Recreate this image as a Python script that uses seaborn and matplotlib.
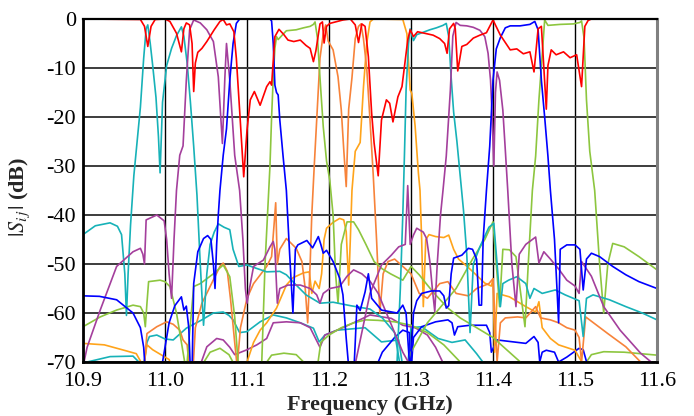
import matplotlib
matplotlib.use("Agg")
import matplotlib.pyplot as plt
import numpy as np
import pandas as pd
import seaborn as sns

# ---- measured |S_ij| traces: (frequency GHz, level dB) ----
s11 = [(10.900, 0.0), (10.970, -0.1), (10.975, -1.5), (10.979, -5.6), (10.983, -1.5), (10.988, -0.1),
       (11.000, 0.0), (11.006, -0.5), (11.014, -2.9), (11.020, -6.7), (11.023, -2.0), (11.026, -0.8),
       (11.030, -1.2), (11.033, -5.0), (11.035, -14.8), (11.037, -9.0), (11.040, -6.8), (11.045, -6.0),
       (11.051, -4.6), (11.060, -2.2), (11.067, -0.5), (11.071, -0.1), (11.075, -1.2), (11.079, -1.0),
       (11.084, -2.6), (11.087, -8.0), (11.091, -18.6), (11.096, -32.2), (11.100, -22.7), (11.104, -16.5),
       (11.109, -14.8), (11.116, -17.6), (11.124, -13.8), (11.128, -12.8), (11.130, -13.5), (11.134, -3.6),
       (11.139, -2.1), (11.145, -3.2), (11.150, -4.3), (11.157, -4.6), (11.165, -4.3), (11.172, -5.4),
       (11.177, -6.0), (11.181, -8.7), (11.184, -6.5), (11.189, -1.0), (11.192, -0.6), (11.194, -4.9),
       (11.197, -1.5), (11.201, -0.9), (11.217, -0.2), (11.226, 0.0), (11.232, -1.2), (11.236, -4.8),
       (11.240, -1.0), (11.244, -1.5), (11.248, -7.7), (11.252, -19.2), (11.255, -25.3), (11.260, -32.0),
       (11.264, -20.6), (11.270, -16.5), (11.274, -17.2), (11.278, -21.0), (11.284, -15.9), (11.289, -13.8),
       (11.293, -8.4), (11.296, -4.3), (11.299, -2.2), (11.303, -3.6), (11.308, -2.6), (11.319, -3.0),
       (11.327, -3.3), (11.335, -4.0), (11.341, -5.0), (11.344, -7.0), (11.347, -2.0), (11.352, -0.9),
       (11.354, -2.0), (11.357, -10.6), (11.362, -5.6), (11.368, -5.2), (11.376, -3.9), (11.384, -3.3),
       (11.392, -2.8), (11.400, -0.2), (11.409, -3.3), (11.421, -6.3), (11.429, -6.1), (11.437, -7.1),
       (11.445, -6.7), (11.450, -10.8), (11.455, -2.0), (11.459, -1.5), (11.465, -18.4), (11.467, -9.5),
       (11.471, -6.3), (11.477, -7.3), (11.486, -6.7), (11.494, -7.9), (11.502, -7.3), (11.508, -13.8),
       (11.512, -1.5), (11.516, -0.3), (11.520, 0.0), (11.600, 0.0)]

cyan_ch1 = [(10.900, -44.0), (10.915, -42.2), (10.933, -41.6), (10.942, -42.3), (10.947, -44.0),
            (10.951, -52.0), (10.953, -60.5), (10.955, -52.0), (10.958, -42.0), (10.962, -32.0),
            (10.966, -25.0), (10.970, -18.0), (10.974, -8.0), (10.977, -2.0), (10.979, -1.2), (10.982, -5.0),
            (10.985, -9.5), (10.989, -16.0), (10.992, -24.0), (10.994, -31.4), (10.997, -17.0), (11.002, -9.5),
            (11.008, -6.0), (11.014, -3.4), (11.020, -1.6), (11.023, -3.5), (11.027, -9.0), (11.031, -17.0),
            (11.035, -26.0), (11.039, -36.0), (11.043, -50.0), (11.047, -62.5), (11.051, -52.0),
            (11.055, -46.0), (11.060, -43.5), (11.065, -41.8), (11.072, -42.5), (11.079, -43.0),
            (11.083, -47.0), (11.090, -50.5), (11.100, -50.2), (11.110, -50.8), (11.124, -51.6),
            (11.140, -51.5), (11.148, -52.2), (11.160, -54.3), (11.172, -56.3), (11.189, -58.0),
            (11.205, -57.8), (11.226, -58.5), (11.250, -59.2), (11.265, -61.0), (11.280, -64.0),
            (11.286, -70.0), (11.290, -80.0)]

cyan_ch7 = [(11.270, -80.0), (11.283, -70.0), (11.287, -55.0), (11.290, -40.0), (11.292, -27.8),
            (11.294, -14.5), (11.297, -5.0), (11.299, -2.0), (11.301, -3.2), (11.303, -4.4), (11.307, -3.2),
            (11.315, -2.7), (11.323, -2.2), (11.331, -1.8), (11.339, -1.3), (11.343, -0.9), (11.346, -3.6),
            (11.349, -12.0), (11.352, -19.0), (11.356, -25.0), (11.360, -32.0), (11.364, -39.0),
            (11.368, -48.0), (11.372, -64.0), (11.376, -50.0), (11.384, -46.5), (11.395, -42.5),
            (11.401, -41.7), (11.405, -50.0), (11.409, -58.7), (11.412, -54.0), (11.419, -53.3),
            (11.429, -52.6), (11.440, -54.0), (11.445, -57.0), (11.450, -55.0), (11.460, -56.0),
            (11.476, -55.3), (11.488, -56.3), (11.505, -57.5), (11.510, -64.8), (11.514, -57.0),
            (11.522, -56.3), (11.542, -57.3), (11.562, -58.7), (11.582, -60.0), (11.600, -61.4)]

cyan_low = [(10.900, -70.2), (10.933, -68.9), (10.961, -68.8), (10.974, -71.0), (10.978, -66.0),
            (10.981, -64.8), (10.990, -64.5), (11.000, -65.3), (11.010, -65.5), (11.020, -64.0),
            (11.026, -63.1), (11.045, -61.4), (11.059, -60.0), (11.071, -59.8), (11.078, -60.5),
            (11.083, -61.4), (11.091, -64.0), (11.100, -63.8), (11.116, -61.8), (11.132, -60.4),
            (11.148, -61.0), (11.165, -62.0), (11.181, -63.1), (11.188, -65.9), (11.195, -64.5),
            (11.210, -63.5), (11.244, -63.0), (11.264, -65.9), (11.285, -65.5), (11.290, -71.0),
            (11.296, -71.0), (11.300, -63.0), (11.313, -62.8), (11.333, -65.2), (11.350, -66.0),
            (11.366, -65.5), (11.380, -68.3), (11.392, -71.0)]

magenta_ch2 = [(10.900, -71.0), (10.905, -67.0), (10.921, -59.4), (10.941, -50.5), (10.961, -47.5),
               (10.970, -46.8), (10.973, -48.0), (10.975, -50.0), (10.977, -41.0), (10.990, -40.0),
               (10.999, -41.2), (11.002, -45.0), (11.005, -52.0), (11.008, -57.0), (11.011, -45.0),
               (11.014, -35.0), (11.018, -27.8), (11.022, -25.9), (11.026, -12.5), (11.030, -2.2),
               (11.035, -0.2), (11.043, -0.8), (11.051, -2.2), (11.059, -4.6), (11.065, -11.8),
               (11.068, -20.0), (11.070, -25.4), (11.073, -12.0), (11.075, -5.0), (11.079, -12.5),
               (11.085, -27.8), (11.091, -35.0), (11.095, -45.0), (11.098, -55.0), (11.100, -58.0),
               (11.103, -55.0), (11.108, -50.5), (11.120, -49.2), (11.128, -46.5), (11.132, -45.4),
               (11.134, -47.0), (11.137, -58.0), (11.140, -55.0), (11.150, -54.3), (11.165, -54.3),
               (11.177, -55.0), (11.185, -56.3), (11.189, -58.0), (11.193, -56.0), (11.201, -55.0),
               (11.213, -54.6), (11.222, -52.5), (11.230, -51.2), (11.240, -52.0), (11.250, -53.5),
               (11.260, -56.0), (11.270, -60.0), (11.280, -64.0), (11.290, -68.0), (11.300, -71.0)]

magenta_ch8 = [(11.220, -80.0), (11.235, -68.0), (11.250, -56.0), (11.264, -50.2), (11.276, -48.2),
               (11.285, -46.5), (11.293, -46.0), (11.296, -34.0), (11.299, -46.0), (11.303, -44.1),
               (11.307, -42.7), (11.315, -43.5), (11.319, -44.8), (11.323, -49.5), (11.326, -55.0),
               (11.329, -59.7), (11.332, -50.0), (11.336, -40.0), (11.339, -35.0), (11.343, -28.0),
               (11.348, -14.5), (11.351, -3.5), (11.355, -0.7), (11.360, -1.3), (11.368, -1.4),
               (11.376, -1.7), (11.384, -2.3), (11.390, -3.6), (11.394, -7.0), (11.397, -12.5),
               (11.399, -20.0), (11.401, -30.0), (11.403, -15.0), (11.405, -10.8), (11.408, -12.5),
               (11.412, -18.6), (11.415, -26.7), (11.418, -35.0), (11.423, -50.0), (11.428, -58.7),
               (11.432, -48.0), (11.440, -46.0), (11.452, -44.5), (11.456, -49.8), (11.462, -47.5),
               (11.470, -49.0), (11.480, -51.0), (11.490, -53.3), (11.500, -54.5), (11.505, -56.0),
               (11.508, -49.5), (11.520, -52.5), (11.535, -58.7), (11.555, -63.5), (11.580, -68.2),
               (11.600, -71.0)]

magenta_low = [(11.040, -72.0), (11.051, -66.9), (11.063, -65.2), (11.071, -65.5), (11.079, -67.0),
               (11.085, -68.5), (11.100, -67.5), (11.112, -66.5), (11.124, -65.2), (11.132, -62.0),
               (11.148, -61.8), (11.165, -62.0), (11.177, -63.0), (11.183, -65.0), (11.189, -67.0),
               (11.195, -64.5), (11.210, -63.5), (11.230, -62.0), (11.250, -60.4), (11.265, -60.8),
               (11.276, -61.1), (11.290, -62.5), (11.305, -63.0), (11.320, -64.5), (11.330, -67.0),
               (11.340, -70.5)]

blue_ch3 = [(10.900, -56.5), (10.920, -56.6), (10.941, -57.3), (10.961, -60.0), (10.970, -63.0),
            (10.974, -67.0), (10.976, -72.0), (10.980, -80.0), (10.993, -80.0), (10.997, -70.0),
            (11.005, -62.0), (11.012, -58.5), (11.020, -56.7), (11.023, -59.4), (11.026, -58.6),
            (11.029, -63.0), (11.031, -72.0), (11.033, -72.0), (11.035, -54.0), (11.040, -47.5),
            (11.047, -44.8), (11.052, -44.2), (11.056, -45.0), (11.059, -50.0), (11.061, -55.0),
            (11.063, -46.0), (11.065, -40.0), (11.067, -35.0), (11.071, -27.8), (11.075, -22.4),
            (11.079, -12.5), (11.083, -5.0), (11.087, -0.9), (11.091, 0.0), (11.128, 0.0), (11.130, -0.4),
            (11.132, -5.0), (11.134, -13.5), (11.136, -15.0), (11.138, -15.5), (11.140, -20.6),
            (11.144, -28.0), (11.148, -35.0), (11.152, -48.0), (11.156, -60.0), (11.159, -47.0),
            (11.162, -46.1), (11.173, -45.2), (11.180, -46.7), (11.187, -44.4), (11.190, -46.0),
            (11.193, -47.8), (11.197, -47.2), (11.205, -49.5), (11.213, -52.9), (11.217, -56.3),
            (11.221, -65.2), (11.224, -71.0), (11.228, -80.0), (11.232, -66.0), (11.234, -58.4),
            (11.238, -59.5), (11.244, -55.7), (11.248, -52.0), (11.252, -57.0), (11.264, -59.4),
            (11.283, -60.0), (11.290, -58.4), (11.294, -60.0), (11.298, -70.0), (11.300, -80.0)]

blue_ch9 = [(11.296, -80.0), (11.300, -70.0), (11.303, -60.0), (11.307, -57.5), (11.313, -56.0),
            (11.325, -55.5), (11.335, -55.5), (11.340, -56.5), (11.343, -59.0), (11.346, -58.5),
            (11.349, -52.0), (11.352, -48.8), (11.362, -48.2), (11.370, -46.8), (11.375, -47.0),
            (11.380, -49.0), (11.383, -58.4), (11.386, -58.4), (11.388, -45.0), (11.392, -35.0),
            (11.396, -26.0), (11.400, -12.5), (11.404, -6.1), (11.409, -3.8), (11.415, -1.8),
            (11.421, -1.4), (11.433, -1.4), (11.445, -1.1), (11.451, -0.5), (11.455, -2.2),
            (11.459, -12.5), (11.463, -20.0), (11.467, -28.0), (11.470, -35.0), (11.475, -45.0),
            (11.478, -55.0), (11.480, -62.0), (11.482, -47.0), (11.490, -46.1), (11.500, -46.1),
            (11.506, -47.0), (11.510, -55.3), (11.514, -49.0), (11.520, -47.8), (11.530, -48.5),
            (11.546, -50.5), (11.562, -52.2), (11.578, -53.6), (11.600, -55.0)]

blue_low = [(11.235, -80.0), (11.255, -72.0), (11.265, -68.0), (11.280, -65.0), (11.290, -63.5),
            (11.298, -64.0), (11.300, -72.0), (11.303, -65.0), (11.313, -62.8), (11.330, -61.8),
            (11.345, -61.4), (11.350, -62.0), (11.353, -64.5), (11.357, -62.8), (11.372, -62.5),
            (11.392, -62.5), (11.396, -64.0), (11.398, -68.0), (11.405, -65.5), (11.420, -65.8),
            (11.440, -66.2), (11.450, -64.8), (11.455, -66.0), (11.457, -70.0), (11.460, -68.0),
            (11.465, -67.6), (11.475, -68.0), (11.480, -70.0), (11.490, -69.0), (11.505, -67.2),
            (11.510, -67.5), (11.515, -70.5)]

green_ch4 = [(10.900, -62.8), (10.921, -60.8), (10.941, -59.4), (10.961, -58.4), (10.970, -58.7),
             (10.974, -60.0), (10.976, -62.8), (10.978, -58.0), (10.980, -53.6), (10.994, -53.3),
             (11.000, -53.6), (11.006, -54.6), (11.014, -60.0), (11.020, -66.0), (11.026, -72.0),
             (11.030, -64.0), (11.035, -54.6), (11.043, -54.0), (11.059, -52.0), (11.071, -50.2),
             (11.079, -52.6), (11.085, -60.8), (11.090, -72.0), (11.095, -80.0), (11.112, -80.0),
             (11.118, -70.0), (11.122, -50.0), (11.125, -40.0), (11.128, -30.0), (11.130, -20.0),
             (11.132, -12.0), (11.134, -6.0), (11.136, -3.6), (11.138, -4.2), (11.144, -3.1),
             (11.148, -2.4), (11.160, -2.2), (11.169, -1.8), (11.177, -1.5), (11.181, -1.1),
             (11.183, -0.6), (11.186, -4.0), (11.189, -12.0), (11.193, -22.0), (11.197, -29.0),
             (11.201, -33.0), (11.205, -40.0), (11.208, -52.0), (11.211, -58.0), (11.215, -46.0),
             (11.222, -41.4), (11.230, -41.4), (11.236, -43.0), (11.245, -46.0), (11.255, -49.5),
             (11.265, -51.0), (11.275, -52.0), (11.290, -53.3), (11.300, -50.5), (11.310, -52.2),
             (11.320, -54.3), (11.330, -56.3), (11.345, -59.0), (11.360, -61.0), (11.380, -63.0),
             (11.400, -65.0), (11.420, -68.0), (11.440, -71.0)]

green_ch10 = [(11.280, -80.0), (11.300, -68.0), (11.320, -62.0), (11.340, -58.0), (11.355, -55.0),
              (11.365, -52.0), (11.375, -49.0), (11.390, -45.0), (11.400, -41.4), (11.404, -50.0),
              (11.408, -58.7), (11.412, -47.0), (11.420, -47.1), (11.428, -48.5), (11.433, -55.0),
              (11.439, -62.8), (11.443, -50.0), (11.448, -35.0), (11.452, -28.0), (11.456, -16.5),
              (11.461, -5.0), (11.463, -0.2), (11.467, -1.3), (11.482, -1.1), (11.498, -1.0),
              (11.506, -0.7), (11.508, -0.4), (11.511, -3.8), (11.514, -16.5), (11.518, -27.0),
              (11.524, -35.0), (11.530, -50.0), (11.535, -60.0), (11.540, -50.0), (11.546, -45.8),
              (11.560, -46.5), (11.578, -48.5), (11.600, -51.2)]

green_low = [(11.040, -72.0), (11.055, -68.0), (11.067, -67.2), (11.078, -68.5), (11.086, -71.0),
             (11.120, -71.0), (11.130, -68.6), (11.145, -68.2), (11.160, -68.5), (11.172, -70.5),
             (11.185, -72.0), (11.190, -66.0), (11.200, -64.5), (11.215, -63.0), (11.230, -62.0),
             (11.245, -61.4), (11.260, -61.5), (11.280, -61.8), (11.300, -62.5), (11.320, -64.0),
             (11.340, -66.5), (11.360, -70.0), (11.370, -72.0)]

green_low_r = [(11.505, -80.0), (11.510, -71.0), (11.520, -68.5), (11.535, -67.9), (11.560, -68.0),
               (11.580, -68.3), (11.600, -68.6)]

coral_ch5 = [(10.970, -80.0), (10.975, -70.0), (10.978, -64.2), (10.990, -62.8), (11.002, -61.8),
             (11.010, -62.3), (11.018, -63.5), (11.022, -65.5), (11.027, -66.5), (11.030, -72.0),
             (11.034, -72.0), (11.037, -63.0), (11.045, -58.0), (11.055, -54.6), (11.067, -50.5),
             (11.071, -49.8), (11.076, -51.5), (11.080, -57.3), (11.085, -66.0), (11.088, -71.0),
             (11.092, -63.0), (11.100, -57.0), (11.108, -54.0), (11.124, -50.5), (11.130, -48.5),
             (11.133, -42.0), (11.135, -37.5), (11.137, -50.0), (11.140, -47.0), (11.148, -44.8),
             (11.160, -46.8), (11.167, -49.5), (11.171, -55.0), (11.174, -62.0), (11.177, -50.0),
             (11.179, -40.0), (11.182, -30.0), (11.185, -20.6), (11.189, -8.0), (11.193, -3.0),
             (11.196, -1.2), (11.199, -4.5), (11.205, -6.3), (11.211, -11.8), (11.215, -18.6),
             (11.218, -26.7), (11.221, -34.2), (11.224, -18.4), (11.228, -12.0), (11.232, -4.0),
             (11.236, -1.5), (11.239, -1.0), (11.242, -4.0), (11.246, -10.0), (11.250, -20.6),
             (11.254, -32.0), (11.258, -45.0), (11.262, -60.0), (11.266, -52.0), (11.272, -49.5),
             (11.280, -49.0), (11.290, -50.5), (11.300, -52.0), (11.310, -56.0), (11.320, -57.0),
             (11.335, -54.0), (11.345, -53.6), (11.355, -56.0), (11.370, -56.5), (11.380, -55.0),
             (11.395, -54.0), (11.400, -53.0), (11.402, -60.0), (11.405, -70.0), (11.409, -62.0),
             (11.415, -61.0), (11.430, -60.8), (11.440, -61.0), (11.452, -58.7), (11.458, -61.0),
             (11.470, -61.4), (11.480, -62.0), (11.490, -63.0), (11.500, -63.5), (11.505, -65.0),
             (11.508, -70.0), (11.513, -60.8), (11.540, -64.2), (11.562, -66.9), (11.580, -70.0),
             (11.590, -75.0)]

amber_ch6 = [(10.900, -66.2), (10.926, -66.5), (10.950, -67.6), (10.965, -68.3), (10.974, -71.0),
             (10.978, -66.5), (10.985, -67.5), (10.995, -68.5), (11.005, -69.5), (11.010, -72.0),
             (11.030, -80.0), (11.090, -80.0), (11.100, -70.0), (11.108, -66.0), (11.116, -63.5),
             (11.124, -62.0), (11.136, -59.0), (11.148, -54.3), (11.156, -52.8), (11.169, -51.8),
             (11.176, -51.6), (11.179, -56.0), (11.183, -53.5), (11.188, -55.0), (11.191, -52.0),
             (11.194, -45.0), (11.197, -42.7), (11.205, -41.5), (11.213, -40.7), (11.218, -41.0),
             (11.221, -43.4), (11.224, -54.3), (11.226, -45.0), (11.228, -35.0), (11.232, -27.0),
             (11.238, -25.2), (11.242, -14.0), (11.246, -5.0), (11.250, -0.6), (11.254, 0.0),
             (11.290, -0.1), (11.295, -3.0), (11.299, -14.5), (11.301, -15.2), (11.305, -21.8),
             (11.309, -31.4), (11.311, -35.0), (11.313, -45.0), (11.315, -58.7), (11.318, -45.0),
             (11.322, -44.0), (11.330, -44.4), (11.340, -44.6), (11.346, -44.1), (11.352, -47.0),
             (11.358, -49.0), (11.365, -50.0), (11.373, -51.2), (11.390, -53.9), (11.398, -54.5),
             (11.400, -53.0), (11.402, -68.0), (11.405, -56.0), (11.420, -56.7), (11.440, -58.7),
             (11.452, -59.8), (11.456, -57.7), (11.460, -63.0), (11.470, -65.2), (11.480, -66.5),
             (11.500, -67.6), (11.510, -70.5), (11.520, -80.0)]

CYAN, MAGENTA, BLUE = "#17B2B8", "#A43F9C", "#0000FF"
GREEN, CORAL, AMBER, RED = "#8DC63F", "#F7833A", "#FFA41B", "#FF0000"

x_ticks = [10.9, 11.0, 11.1, 11.2, 11.3, 11.4, 11.5, 11.6]
y_ticks = [0, -10, -20, -30, -40, -50, -60, -70]

sns.set_style("white")
plt.rcParams["font.family"] = ["Liberation Serif", "DejaVu Serif"]
plt.rcParams["mathtext.fontset"] = "stix"
plt.rcParams["axes.unicode_minus"] = False

fig = plt.figure(figsize=(6.94, 4.16), dpi=100)
ax = fig.add_axes([83 / 694, 1 - 362 / 416, (657 - 83) / 694, (362 - 19) / 416])

traces = [
    (cyan_low, CYAN), (magenta_low, MAGENTA), (green_low, GREEN), (green_low_r, GREEN),
    (blue_low, BLUE),
    (amber_ch6, AMBER), (coral_ch5, CORAL),
    (green_ch4, GREEN), (green_ch10, GREEN),
    (cyan_ch1, CYAN), (cyan_ch7, CYAN),
    (magenta_ch2, MAGENTA), (magenta_ch8, MAGENTA),
    (blue_ch3, BLUE), (blue_ch9, BLUE),
    (s11, RED),
]
for pts, col in traces:
    df = pd.DataFrame(pts, columns=["freq", "level"])
    sns.lineplot(data=df, x="freq", y="level", color=col, lw=1.2, sort=False,
                 estimator=None, ax=ax, zorder=3)

ax.set_xlim(10.9, 11.6)
ax.set_ylim(-70, 0)
ax.set_xticks(x_ticks)
ax.set_xticklabels([f"{v:.1f}" for v in x_ticks])
ax.set_yticks(y_ticks)
ax.set_yticklabels([str(v) for v in y_ticks])
ax.tick_params(axis="both", length=0, labelsize=16, colors="black")
ax.tick_params(axis="x", pad=7)
ax.tick_params(axis="y", pad=5)

ax.set_axisbelow(True)
ax.grid(True, axis="x", color="black", lw=1.0)
ax.grid(True, axis="y", color="#3c3c3c", lw=1.4)

for side in ("left", "bottom"):
    ax.spines[side].set_color("black")
    ax.spines[side].set_linewidth(2.0)
ax.spines["top"].set_color("black")
ax.spines["top"].set_linewidth(1.6)
ax.spines["right"].set_color("#808080")
ax.spines["right"].set_linewidth(2.2)
for s in ax.spines.values():
    s.set_zorder(5)

ax.set_xlabel("Frequency (GHz)", fontsize=16, fontweight="bold")
ax.set_ylabel(r"$|S_{i\,j}|$ (dB)", fontsize=16, fontweight="bold")
ax.xaxis.set_label_coords(0.5, -0.095)
ax.yaxis.set_label_coords(-0.088, 0.48)

fig.savefig("out.png", dpi=100)
